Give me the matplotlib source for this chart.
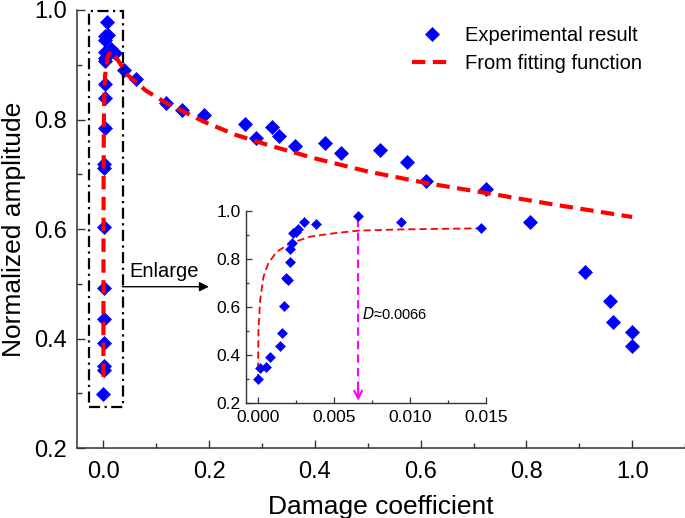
import matplotlib

matplotlib.use("Agg")
import matplotlib.pyplot as plt
from matplotlib.patches import Rectangle
from matplotlib.ticker import MultipleLocator

plt.rcParams["font.family"] = ["Liberation Sans", "DejaVu Sans"]

# experimental points at very small damage (also shown in the inset)
d_small = [0.0, 0.00015, 0.00053, 0.00077, 0.00147, 0.0016, 0.00175, 0.00186,
           0.0020, 0.00213, 0.00213, 0.00228, 0.0023, 0.00248, 0.00263,
           0.00305, 0.00382, 0.00662, 0.00943, 0.01467]
amp_small = [0.298, 0.343, 0.350, 0.392, 0.436, 0.492, 0.603, 0.718,
             0.711, 0.785, 0.840, 0.864, 0.906, 0.913, 0.924,
             0.953, 0.945, 0.978, 0.954, 0.929]

# experimental points at larger damage
d_large = [0.0227, 0.0385, 0.0625, 0.119, 0.149, 0.19, 0.267, 0.288, 0.318,
           0.332, 0.362, 0.42, 0.45, 0.523, 0.575, 0.61, 0.723, 0.806, 0.91,
           0.959, 0.963, 1.0, 1.0]
amp_large = [0.921, 0.890, 0.874, 0.831, 0.817, 0.809, 0.791, 0.767, 0.787,
             0.770, 0.752, 0.757, 0.739, 0.744, 0.722, 0.688, 0.673, 0.612,
             0.521, 0.469, 0.430, 0.411, 0.386]

# fitting function
fit_x = [0.0, 0.0001, 0.0003, 0.0007, 0.0015, 0.003, 0.008, 0.015, 0.025,
         0.045, 0.08, 0.119, 0.19, 0.25, 0.316, 0.4, 0.5, 0.61, 0.723, 0.85, 1.0]
fit_y = [0.33, 0.55, 0.68, 0.78, 0.84, 0.88, 0.915, 0.925, 0.912,
         0.882, 0.853, 0.830, 0.796, 0.772, 0.752, 0.729, 0.705, 0.684,
         0.666, 0.645, 0.622]

# fitting function
fit_in_x = [0.0, 0.00002, 0.00004, 0.00015, 0.00037, 0.0007, 0.00125, 0.00213,
            0.00344, 0.005, 0.0066, 0.00936, 0.01495]
fit_in_y = [0.29, 0.40, 0.503, 0.628, 0.725, 0.783, 0.829, 0.864,
            0.892, 0.906, 0.917, 0.922, 0.927]

d_mark = 0.0066

blue = "#0000ff"
red = "#ff0000"
magenta = "#ff00ff"

fig = plt.figure(figsize=(6.85, 5.18), dpi=100)
ax = fig.add_axes([0.1124, 0.1351, 0.8876, 0.8456])

ax.plot(d_small + d_large, amp_small + amp_large, linestyle="none", marker="D",
        ms=7.2, color=blue, mec=blue, mew=0.5, label="Experimental result",
        zorder=3, clip_on=False)
ax.plot(fit_x, fit_y, color=red, lw=3, dashes=(3.2, 1.8),
        label="From fitting function", zorder=4)

ax.set_xlim(-0.05, 1.1)
ax.set_ylim(0.2, 1.0)
ax.xaxis.set_major_locator(MultipleLocator(0.2))
ax.xaxis.set_minor_locator(MultipleLocator(0.1))
ax.yaxis.set_major_locator(MultipleLocator(0.2))
ax.yaxis.set_minor_locator(MultipleLocator(0.1))
ax.xaxis.set_major_formatter(lambda v, p: f"{v:.1f}")
ax.yaxis.set_major_formatter(lambda v, p: f"{v:.1f}")
for side in ("top", "right"):
    ax.spines[side].set_visible(False)
for side in ("left", "bottom"):
    ax.spines[side].set_linewidth(1.1)
    ax.spines[side].set_color("#333333")
ax.tick_params(which="major", direction="in", length=6, width=1.0,
               color="#333333", labelsize=17)
ax.tick_params(which="minor", direction="in", length=3.5, width=1.0,
               color="#333333")
ax.tick_params(axis="x", which="major", pad=9)
ax.tick_params(axis="y", which="major", pad=7)
ax.set_xlabel("Damage coefficient", fontsize=19, labelpad=9)
ax.set_ylabel("Normalized amplitude", fontsize=19, labelpad=6)

# dash-dot box around the enlarged region
ax.add_patch(Rectangle((-0.0265, 0.275), 0.0644, 0.723, fill=False,
                       edgecolor="black", lw=1.6, ls=(0, (5, 2, 1, 2)),
                       clip_on=False, zorder=5))
ax.annotate("", xy=(0.1994, 0.4946), xytext=(0.0355, 0.4946),
            arrowprops=dict(arrowstyle="-|>", color="black", lw=1.0,
                            mutation_scale=14, shrinkA=0, shrinkB=0))
ax.text(0.049, 0.505, "Enlarge", fontsize=14.5, ha="left", va="bottom")

ax.legend(loc="upper left", bbox_to_anchor=(412 / 685, 1 - 26 / 518),
          bbox_transform=fig.transFigure, frameon=False, fontsize=14.5,
          handlelength=2.0, handletextpad=0.65, borderpad=0,
          borderaxespad=0, labelspacing=0.45)

# inset
ax_in = fig.add_axes([0.3587, 0.2226, 0.3504, 0.3706])
ax_in.patch.set_alpha(0)
ax_in.plot(fit_in_x, fit_in_y, color=red, lw=1.3, dashes=(4, 2.2), zorder=2)
ax_in.plot(d_small, amp_small, linestyle="none", marker="D", ms=5.2,
           color=blue, mec=blue, mew=0.4, zorder=3, clip_on=False)
ax_in.plot([d_mark, d_mark], [0.965, 0.225], color=magenta, lw=1.5,
           dashes=(4, 2.5), zorder=2)
ax_in.annotate("", xy=(d_mark, 0.208), xytext=(d_mark, 0.26),
               arrowprops=dict(arrowstyle="->", color=magenta, lw=1.5,
                               mutation_scale=14, shrinkA=0, shrinkB=0))
ax_in.text(d_mark + 0.00025, 0.57, r"$\it{D}$" + "\u2248" + "0.0066",
           fontsize=10.5, ha="left", va="center")

ax_in.set_xlim(-0.0008, 0.015)
ax_in.set_ylim(0.2, 1.0)
ax_in.xaxis.set_major_locator(MultipleLocator(0.005))
ax_in.xaxis.set_minor_locator(MultipleLocator(0.0025))
ax_in.yaxis.set_major_locator(MultipleLocator(0.2))
ax_in.yaxis.set_minor_locator(MultipleLocator(0.1))
ax_in.xaxis.set_major_formatter(lambda v, p: f"{v:.3f}")
ax_in.yaxis.set_major_formatter(lambda v, p: f"{v:.1f}")
for side in ("top", "right"):
    ax_in.spines[side].set_visible(False)
for side in ("left", "bottom"):
    ax_in.spines[side].set_linewidth(1.0)
    ax_in.spines[side].set_color("#333333")
ax_in.tick_params(which="major", direction="in", length=4, width=0.9,
                  color="#333333", labelsize=12.5, pad=3.5)
ax_in.tick_params(axis="x", which="major", pad=5)
ax_in.tick_params(which="minor", direction="in", length=2.5, width=0.9,
                  color="#333333")

fig.savefig("out.png", dpi=100)
